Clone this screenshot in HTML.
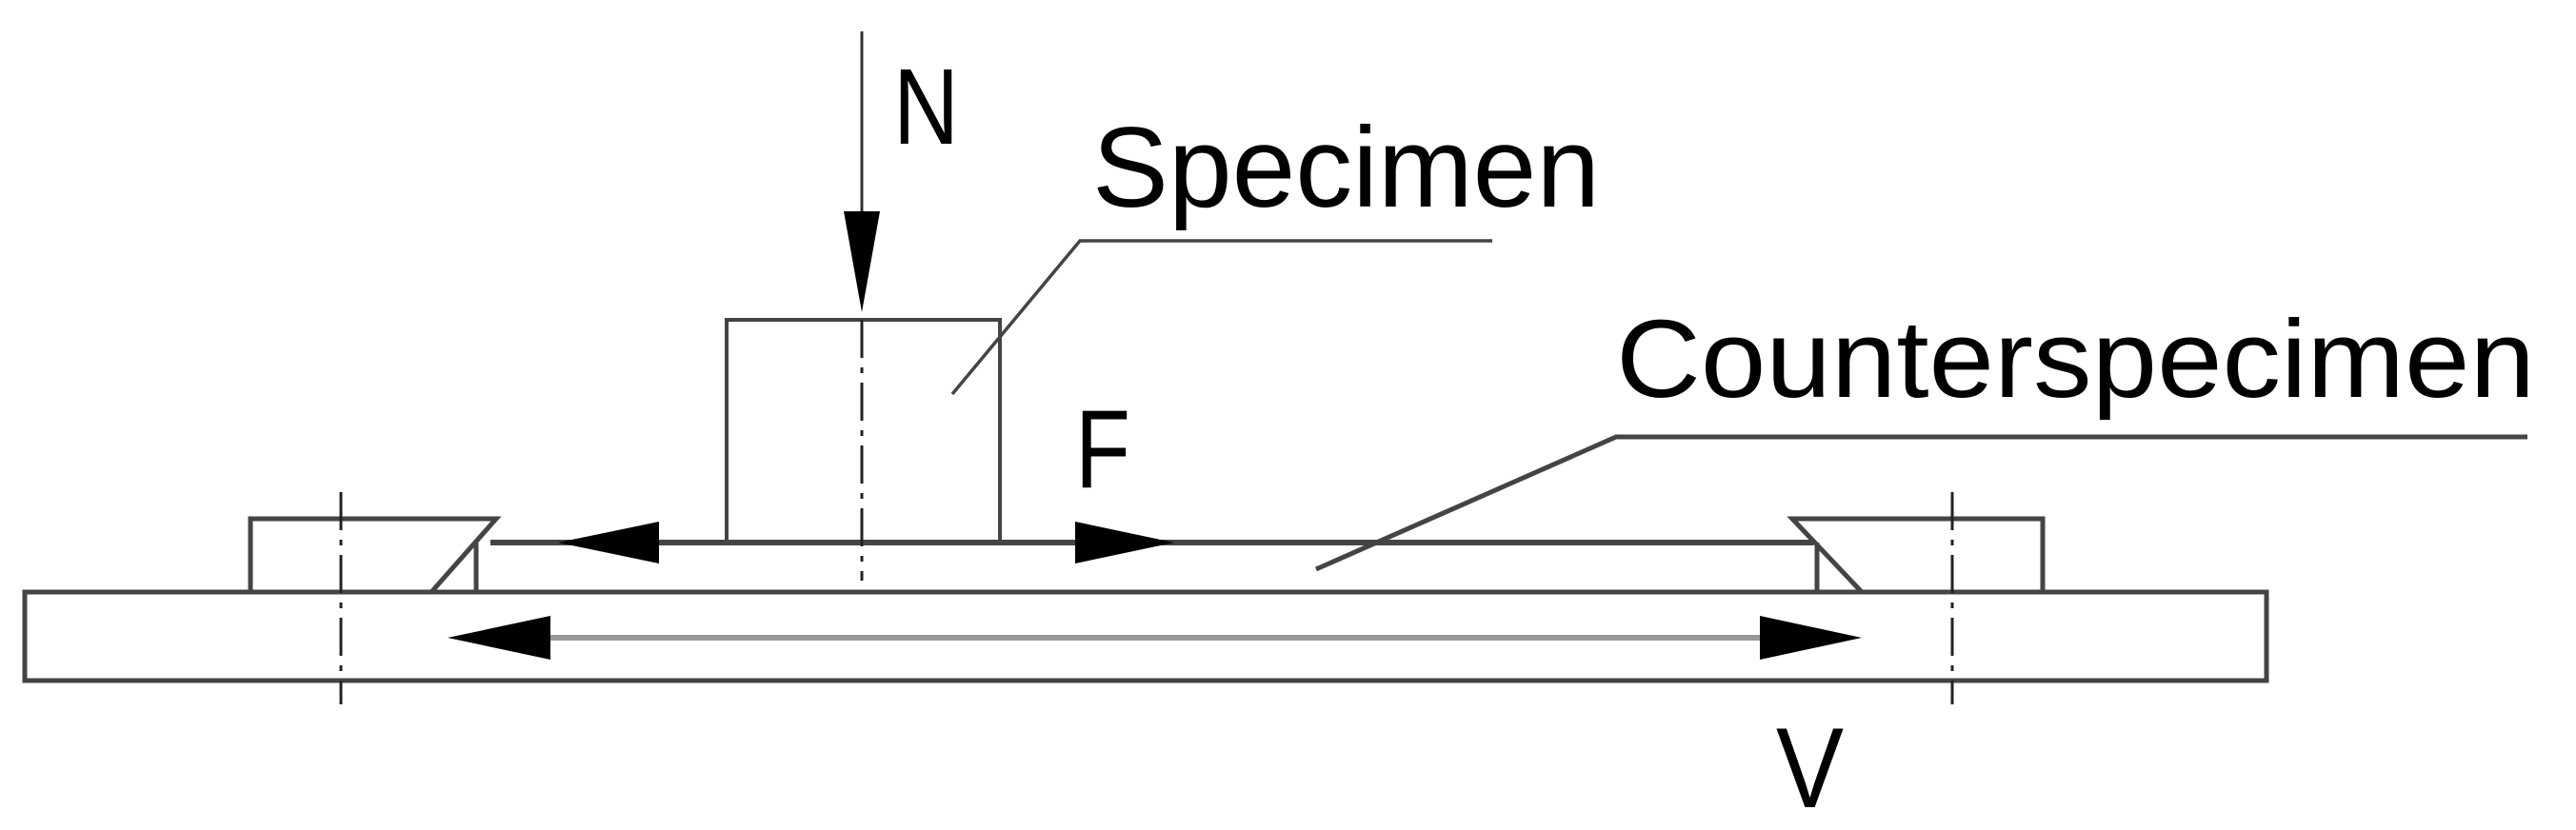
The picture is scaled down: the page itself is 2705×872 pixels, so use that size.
<!DOCTYPE html>
<html><head><meta charset="utf-8"><style>
html,body{margin:0;padding:0;background:#fff;}
svg{display:block;}
text{font-family:"Liberation Sans",sans-serif;fill:#000;}
</style></head><body>
<svg width="2705" height="872" viewBox="0 0 2705 872" xmlns="http://www.w3.org/2000/svg">
<g stroke="#444" stroke-width="5" fill="none">
  <rect x="26" y="622" width="2354" height="93"/>
  <line x1="515" y1="570" x2="1904" y2="570" stroke-width="6"/>
  <polyline points="263,622 263,545 521,545 453,622"/>
  <line x1="500" y1="570" x2="500" y2="622"/>
  <polyline points="2145,622 2145,545 1882,545 1955,622"/>
  <line x1="1908" y1="570" x2="1908" y2="622"/>
  <polyline points="763,570 763,336 1050,336 1050,570" stroke-width="4"/>
</g>
<line x1="520" y1="670" x2="1900" y2="670" stroke="#999" stroke-width="6"/>
<g stroke="#222" stroke-width="3" stroke-dasharray="40,10,6,10">
  <line x1="358" y1="517" x2="358" y2="740"/>
  <line x1="2050" y1="517" x2="2050" y2="740"/>
  <line x1="905" y1="336" x2="905" y2="610"/>
</g>
<line x1="905" y1="33" x2="905" y2="300" stroke="#333" stroke-width="3"/>
<polygon points="886,222 924,222 905,328" fill="#000"/>
<polygon points="586,570 692,548 692,592" fill="#000"/>
<polygon points="1233,570 1129,548 1129,592" fill="#000"/>
<polygon points="470,670 578,647 578,693" fill="#000"/>
<polygon points="1955,670 1848,647 1848,693" fill="#000"/>
<g stroke="#444" stroke-width="3.5" fill="none">
  <polyline points="1000,414 1134,253 1567,253"/>
  <polyline points="1382,598 1697,459 2654,459" stroke-width="5"/>
</g>
<text x="938" y="151" font-size="113" textLength="69" lengthAdjust="spacingAndGlyphs">N</text>
<text x="1147" y="217" font-size="120" textLength="533" lengthAdjust="spacingAndGlyphs">Specimen</text>
<text x="1129" y="512" font-size="117" textLength="58" lengthAdjust="spacingAndGlyphs">F</text>
<text x="1697" y="417" font-size="116" textLength="965" lengthAdjust="spacingAndGlyphs">Counterspecimen</text>
<text x="1865" y="848" font-size="120" textLength="71" lengthAdjust="spacingAndGlyphs">V</text>
</svg>
</body></html>
